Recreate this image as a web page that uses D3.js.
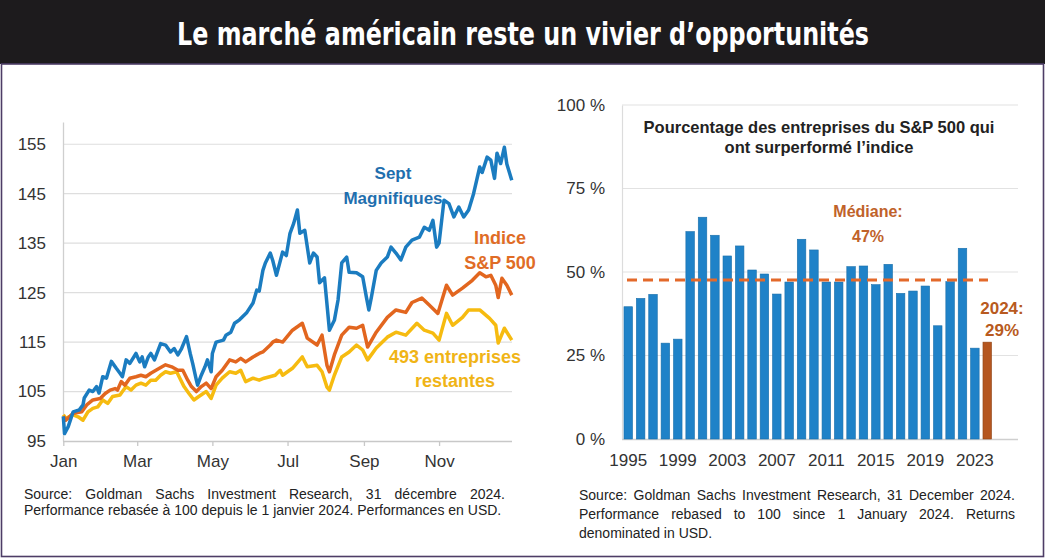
<!DOCTYPE html>
<html><head><meta charset="utf-8">
<script src="https://cdn.jsdelivr.net/npm/d3@7"></script>
<style>body{margin:0;background:#fff}svg{display:block}text{font-family:"Liberation Sans",Arial,sans-serif}</style>
</head><body>
<svg id="c" width="1045" height="558"></svg>
<script>
// ---------- DATA ----------
const titleText = "Le marché américain reste un vivier d’opportunités";
const yTicksLeft = [95,105,115,125,135,145,155];
const monthTicks = ["01-01","03-01","05-01","07-01","09-01","11-01"];
const monthLabels = ["Jan","Mar","May","Jul","Sep","Nov"];
const magnificentSeven = [["01-01",100],["01-02",96.5],["01-05",97.9],["01-09",100.9],["01-14",101.3],["01-17",102.3],["01-18",103.7],["01-22",105.3],["01-25",105],["01-28",106],["01-30",104.7],["02-02",108],["02-05",107.7],["02-09",111.1],["02-13",109.7],["02-16",108.7],["02-18",108],["02-21",111.4],["02-24",110.7],["02-29",112.7],["03-03",111],["03-05",112],["03-07",110],["03-10",112],["03-12",112.7],["03-15",111.4],["03-20",114.7],["03-24",114.4],["03-28",113],["03-31",113.7],["04-03",112.4],["04-06",113.7],["04-10",116.1],["04-13",112.7],["04-15",110.7],["04-18",107.3],["04-19",106.3],["04-22",108.3],["04-25",110],["04-27",111.4],["04-30",109],["05-01",112.7],["05-04",115],["05-10",115.4],["05-12",116.4],["05-16",117],["05-19",118.8],["05-23",119.5],["05-29",121],["06-03",122.9],["06-06",125.5],["06-08",125.3],["06-11",129.5],["06-13",131],["06-17",133],["06-19",131.5],["06-22",128.5],["06-27",133.2],["06-30",132.5],["07-03",137],["07-06",139],["07-09",141.7],["07-11",137],["07-15",137.6],["07-19",131],["07-22",133],["07-25",132.2],["07-27",127],["07-31",128],["08-04",117.4],["08-08",119.4],["08-11",123.5],["08-14",131],["08-18",132.2],["08-20",129.1],["08-26",129],["08-31",128.2],["09-03",124.1],["09-05",121.5],["09-07",124],["09-11",129.5],["09-15",131],["09-20",132.2],["09-23",134.2],["09-27",133],["10-01",131.6],["10-05",134.2],["10-10",135.6],["10-16",136.2],["10-20",138.2],["10-24",137.6],["10-27",139.6],["10-30",134.2],["11-01",135],["11-05",143.7],["11-09",143],["11-13",140.3],["11-17",142.3],["11-21",140.3],["11-25",141.7],["11-29",145],["12-04",150.4],["12-06",149.3],["12-10",152.4],["12-13",151.8],["12-16",148.1],["12-18",153.2],["12-21",151.1],["12-24",154.4],["12-26",151],["12-30",147.7]];
const sp500 = [["01-01",100],["01-03",99.2],["01-09",100.6],["01-16",100.9],["01-20",102.3],["01-25",103.3],["01-31",103.6],["02-04",104.6],["02-08",105.3],["02-12",105.6],["02-14",105.3],["02-17",107],["02-20",106.3],["02-24",107.7],["02-29",108],["03-04",108.3],["03-08",108],["03-12",108.7],["03-19",109.7],["03-24",110.4],["03-29",110],["04-03",109.3],["04-07",109.3],["04-11",107.3],["04-14",106],["04-18",105],["04-22",106],["04-26",106.7],["04-30",105.6],["05-04",108],["05-09",109.3],["05-15",111.4],["05-20",111],["05-24",111.7],["05-28",111],["06-03",112],["06-08",112.7],["06-11",113],["06-17",114.4],["06-19",115],["06-22",115.4],["06-27",115],["07-05",117.4],["07-13",118.8],["07-17",115.8],["07-25",114.4],["07-29",116.4],["08-02",110.3],["08-04",109],["08-08",112.4],["08-14",116.4],["08-20",118],["08-26",117.8],["08-31",118.4],["09-04",114],["09-11",117],["09-20",120],["09-27",121.5],["10-05",121],["10-10",123],["10-18",123.9],["10-24",122.5],["10-31",120.8],["11-07",126.5],["11-12",124.5],["11-20",125.9],["11-28",127.5],["12-04",129],["12-09",128.2],["12-13",128.5],["12-17",126.5],["12-19",124],["12-22",127.9],["12-26",126.5],["12-30",124.5]];
const remaining493 = [["01-01",100.3],["01-03",99.6],["01-09",100.3],["01-13",99.9],["01-17",99.2],["01-21",100.9],["01-25",101.6],["01-29",101.9],["02-02",103.3],["02-06",102.6],["02-10",104],["02-16",104.3],["02-18",105],["02-21",106],["02-25",105.3],["02-29",106.3],["03-04",106.7],["03-08",106.3],["03-12",107.3],["03-16",107.3],["03-20",108.3],["03-24",109],["03-28",108.7],["04-02",109],["04-04",108],["04-08",106],["04-12",104.6],["04-16",103.3],["04-20",104],["04-26",105],["04-30",103.6],["05-04",106.3],["05-09",107.7],["05-15",109],["05-20",108.7],["05-24",109.3],["05-28",107],["06-03",107.7],["06-08",107.3],["06-12",107.7],["06-21",108.3],["06-25",109.3],["06-27",108.3],["07-05",109.7],["07-13",112],["07-17",110],["07-25",110.3],["07-29",109],["08-02",105.9],["08-04",105.3],["08-08",108.3],["08-14",112],["08-20",113],["08-26",114.4],["08-31",113.4],["09-04",111.4],["09-11",113.8],["09-20",116],["09-27",117],["10-05",116.4],["10-14",118.8],["10-20",117.4],["10-27",116.8],["11-01",115.4],["11-07",120.8],["11-12",118.4],["11-20",120],["11-25",121.5],["12-04",121.5],["12-12",119.8],["12-17",118.4],["12-19",114.8],["12-24",117.8],["12-30",115.4]];
const seriesNames = [["Sept","Magnifiques"],["Indice","S&P 500"],["493 entreprises","restantes"]];

const years = d3.range(1995, 2025);
const outperformPct = [39.6,42.1,43.3,28.7,29.9,62.1,66.4,61,54.8,57.8,50.6,49.4,43.4,47,59.8,56.6,47,47,51.6,51.8,46.2,52.3,43.6,44.3,45.8,33.9,47.1,57.1,27.2,29];
const yearLabels = [1995,1999,2003,2007,2011,2015,2019,2023];
const pctTicks = [0,25,50,75,100];
const medianPct = 47.6;
const rightTitle = ["Pourcentage des entreprises du S&P 500 qui","ont surperformé l’indice"];
const medianLabel = ["Médiane:","47%"];
const lastLabel = ["2024:","29%"];
const noteLeft = ["Source: Goldman Sachs Investment Research, 31 décembre 2024.","Performance rebasée à 100 depuis le 1 janvier 2024. Performances en USD."];
const noteRight = ["Source: Goldman Sachs Investment Research, 31 December 2024.","Performance rebased to 100 since 1 January 2024. Returns","denominated in USD."];

// ---------- DRAW ----------
const svg = d3.select("#c");
const parse = s => new Date(2024, +s.slice(0,2)-1, +s.slice(3,5));

// title bar + frame
svg.append("rect").attr("x",0).attr("y",0).attr("width",1045).attr("height",64).attr("fill","#1d1b1d");
svg.append("rect").attr("x",1.5).attr("y",64).attr("width",1042).attr("height",492.5).attr("fill","none").attr("stroke","#4d3d66").attr("stroke-width",1.6);
svg.append("text").attr("x",177).attr("y",45).attr("fill","#fff")
  .style("font-family","'Liberation Sans Narrow','DejaVu Sans Condensed','Roboto Condensed',sans-serif")
  .attr("font-weight","bold").attr("font-size",32)
  .attr("textLength",692).attr("lengthAdjust","spacingAndGlyphs").text(titleText);

// ----- left chart -----
const xL = d3.scaleTime().domain([new Date(2024,0,1), new Date(2024,11,31)]).range([63.3, 513]);
const yL = d3.scaleLinear().domain([95, 159.5]).range([441, 122]);
const gL = svg.append("g");
gL.selectAll("line.grid").data(yTicksLeft.slice(1)).join("line")
  .attr("x1",63).attr("x2",512).attr("y1",d=>yL(d)).attr("y2",d=>yL(d))
  .attr("stroke","#dedede").attr("stroke-width",1.2);
const axL = gL.append("g").attr("transform","translate(63,0)")
  .call(d3.axisLeft(yL).tickValues(yTicksLeft).tickSize(0).tickPadding(17));
axL.select(".domain").attr("stroke","#cfcfcf").attr("stroke-width",1.3);
axL.selectAll("text").attr("font-size",17).attr("fill","#333");
const axB = gL.append("g").attr("transform","translate(0,441)")
  .call(d3.axisBottom(xL).tickValues(monthTicks.map(parse)).tickFormat((d,i)=>monthLabels[i]).tickSizeInner(5).tickSizeOuter(0).tickPadding(9));
axB.select(".domain").attr("stroke","#c8c8c8").attr("stroke-width",1.3).attr("d","M63,0.5H512");
axB.selectAll(".tick line").attr("stroke","#c8c8c8").attr("stroke-width",1.3);
axB.selectAll("text").attr("font-size",17).attr("fill","#333");

const line = d3.line().x(d=>xL(parse(d[0]))).y(d=>yL(d[1])).curve(d3.curveLinear);
const lineColors = ["#1b7cc0","#e2661f","#f6bb10"];
[remaining493, sp500, magnificentSeven].forEach((s,i)=>{
  gL.append("path").datum(s).attr("d",line).attr("fill","none")
    .attr("stroke",lineColors[2-i]).attr("stroke-width",3.5).attr("stroke-linejoin","round");
});
const labelColors = ["#1f6fae","#e06c26","#f0b416"];
const labelSizes = [17,18,18];
const labelPos = [[393,179,204],[500,244,269],[455,363,387]];
seriesNames.forEach((n,i)=>{
  n.forEach((t,j)=>{
    gL.append("text").attr("x",labelPos[i][0]).attr("y",labelPos[i][1+j]).attr("text-anchor","middle")
      .attr("font-weight","bold").attr("font-size",labelSizes[i]).attr("fill",labelColors[i]).text(t);
  });
});

// ----- right chart -----
const xR = d3.scaleBand().domain(years).range([622, 993.5]).paddingInner(0.31).paddingOuter(0.16);
const yR = d3.scaleLinear().domain([0,100]).range([439,105]);
const gR = svg.append("g");
gR.selectAll("line.grid").data(pctTicks.slice(1)).join("line")
  .attr("x1",622).attr("x2",1018).attr("y1",d=>yR(d)).attr("y2",d=>yR(d))
  .attr("stroke","#e2e2e2").attr("stroke-width",1.2);
const axR = gR.append("g").attr("transform","translate(622,0)")
  .call(d3.axisLeft(yR).tickValues(pctTicks).tickFormat(d=>d+" %").tickSize(0).tickPadding(17));
axR.select(".domain").attr("stroke","#dcdcdc").attr("stroke-width",1.2);
axR.selectAll("text").attr("font-size",17).attr("fill","#333");
gR.append("line").attr("x1",622).attr("x2",1018).attr("y1",439.5).attr("y2",439.5).attr("stroke","#cfcfcf").attr("stroke-width",1.3);
gR.selectAll("rect.bar").data(years).join("rect")
  .attr("x",d=>xR(d)).attr("width",xR.bandwidth())
  .attr("y",(d,i)=>yR(outperformPct[i])).attr("height",(d,i)=>439-yR(outperformPct[i]))
  .attr("fill",d=>d===2024?"#b5561f":"#1f82c8")
  .attr("stroke",d=>d===2024?"#8f4416":"#1a6faa").attr("stroke-width",0.6);
gR.selectAll("text.yr").data(yearLabels).join("text")
  .attr("x",d=>xR(d)+xR.bandwidth()/2).attr("y",466).attr("text-anchor","middle")
  .attr("font-size",17).attr("fill","#333").text(d=>d);
gR.append("line").attr("x1",627).attr("x2",988).attr("y1",yR(medianPct)).attr("y2",yR(medianPct))
  .attr("stroke","#e3692a").attr("stroke-width",3).attr("stroke-dasharray","10,6");
rightTitle.forEach((t,j)=>gR.append("text").attr("x",819).attr("y",133+j*20).attr("text-anchor","middle")
  .attr("font-weight","bold").attr("font-size",16.5).attr("fill","#222").text(t));
medianLabel.forEach((t,j)=>gR.append("text").attr("x",868).attr("y",217+j*25).attr("text-anchor","middle")
  .attr("font-weight","bold").attr("font-size",16).attr("fill","#c0622a").text(t));
lastLabel.forEach((t,j)=>gR.append("text").attr("x",1002).attr("y",314+j*22).attr("text-anchor","middle")
  .attr("font-weight","bold").attr("font-size",17).attr("fill","#b85a20").text(t));

// ----- notes -----
function justified(g, str, x0, x1, y, justify){
  const words = str.split(" ");
  const ts = words.map(w=>g.append("text").attr("y",y).attr("font-size",14).attr("fill","#222").text(w));
  const widths = ts.map(t=>t.node().getComputedTextLength());
  const total = d3.sum(widths);
  const space = justify ? (x1-x0-total)/(words.length-1) : 3.9;
  let x = x0;
  ts.forEach((t,i)=>{ t.attr("x",x); x += widths[i]+space; });
}
const gN = svg.append("g");
justified(gN, noteLeft[0], 24, 505, 499, true);
justified(gN, noteLeft[1], 24, 505, 515, false);
justified(gN, noteRight[0], 579, 1015, 500, true);
justified(gN, noteRight[1], 579, 1015, 519, true);
justified(gN, noteRight[2], 579, 1015, 538, false);
</script>
</body></html>
